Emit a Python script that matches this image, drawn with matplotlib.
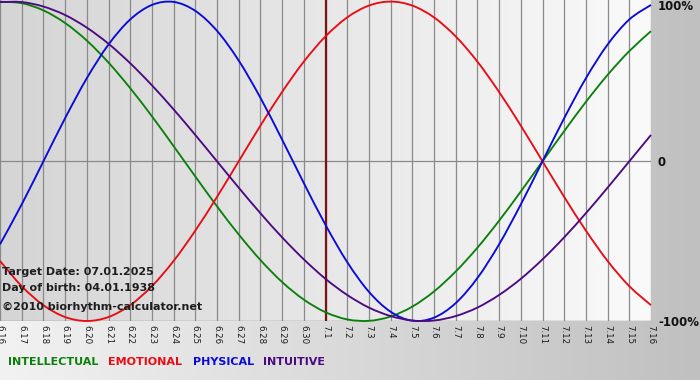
import numpy as np
import matplotlib
matplotlib.use('Agg')
import matplotlib.pyplot as plt
from matplotlib.colors import LinearSegmentedColormap
from matplotlib.path import Path
from matplotlib.patches import PathPatch

# ---- data ----
dates = ['6.16', '6.17', '6.18', '6.19', '6.20', '6.21', '6.22', '6.23', '6.24', '6.25',
         '6.26', '6.27', '6.28', '6.29', '6.30', '7.1', '7.2', '7.3', '7.4', '7.5',
         '7.6', '7.7', '7.8', '7.9', '7.10', '7.11', '7.12', '7.13', '7.14', '7.15', '7.16']

intellectual = [0.999, 0.990, 0.945, 0.866, 0.756, 0.618, 0.458, 0.282, 0.095, -0.095,
                -0.282, -0.458, -0.618, -0.756, -0.866, -0.945, -0.990, -0.999, -0.972, -0.910,
                -0.815, -0.690, -0.541, -0.372, -0.189, 0.000, 0.189, 0.372, 0.541, 0.690, 0.815]
emotional = [-0.624, -0.782, -0.901, -0.975, -1.000, -0.975, -0.901, -0.782, -0.624, -0.434,
             -0.223, 0.000, 0.223, 0.434, 0.624, 0.782, 0.901, 0.975, 1.000, 0.975,
             0.901, 0.782, 0.624, 0.434, 0.223, 0.000, -0.223, -0.434, -0.624, -0.782, -0.901]
physical = [-0.520, -0.270, 0.000, 0.270, 0.520, 0.731, 0.888, 0.979, 0.998, 0.942,
            0.817, 0.631, 0.398, 0.136, -0.136, -0.398, -0.631, -0.817, -0.942, -0.998,
            -0.979, -0.888, -0.731, -0.520, -0.270, 0.000, 0.270, 0.520, 0.731, 0.888, 0.979]
intuitive = [0.997, 0.997, 0.969, 0.916, 0.837, 0.736, 0.614, 0.476, 0.325, 0.165,
             0.000, -0.165, -0.325, -0.476, -0.614, -0.736, -0.837, -0.916, -0.969, -0.997,
             -0.997, -0.969, -0.916, -0.837, -0.736, -0.614, -0.476, -0.325, -0.165, 0.000, 0.165]

series_names = ['INTELLECTUAL', 'EMOTIONAL', 'PHYSICAL', 'INTUITIVE']
series_colors = ['#0a800a', '#e80c14', '#0a0ad8', '#4b0a82']
target_label = '7.1'
y_ticks = [1.0, 0.0, -1.0]
y_labels = ['100%', '0', '-100%']
info_lines = ['Target Date: 07.01.2025', 'Day of birth: 04.01.1938',
              '\u00a92010 biorhythm-calculator.net']


def smooth_path(xs, ys):
    """Catmull-Rom style Bezier path through the data points."""
    pts = np.column_stack([xs, ys]).astype(float)
    n = len(pts)
    verts = [pts[0]]
    codes = [Path.MOVETO]
    for i in range(n - 1):
        p0 = pts[max(i - 1, 0)]
        p1 = pts[i]
        p2 = pts[i + 1]
        p3 = pts[min(i + 2, n - 1)]
        c1 = p1 + (p2 - p0) / 6.0
        c2 = p2 - (p3 - p1) / 6.0
        verts += [c1, c2, p2]
        codes += [Path.CURVE4] * 3
    return Path(verts, codes)


# ---- figure ----
W, H = 700, 380
fig = plt.figure(figsize=(W / 100, H / 100), dpi=100)

# figure background gradient
bg = fig.add_axes([0, 0, 1, 1], zorder=-10)
bg_cmap = LinearSegmentedColormap.from_list('bg', ['#f2f2f2', '#c0c0c0'])
bg.imshow(np.linspace(0, 1, 256)[None, :], aspect='auto', cmap=bg_cmap,
          extent=[0, 1, 0, 1])
bg.set_axis_off()

# main plot area
ax_left, ax_right, ax_top, ax_bottom = 0, 651, 0, 321
ax = fig.add_axes([ax_left / W, 1 - ax_bottom / H, (ax_right - ax_left) / W,
                   (ax_bottom - ax_top) / H])
x = np.arange(len(dates))
ax.set_xlim(0, len(dates) - 1)
ax.set_ylim(-1.0, 1.01)

plot_cmap = LinearSegmentedColormap.from_list('pl', ['#d5d5d5', '#fafafa'])
ax.imshow(np.linspace(0, 1, 256)[None, :], aspect='auto', cmap=plot_cmap,
          extent=[0, len(dates) - 1, -1.0, 1.01], zorder=0)

for xi in x:
    ax.axvline(xi, color='#8a8a8a', lw=0.9, zorder=1)
ax.axhline(0, color='#8a8a8a', lw=0.9, zorder=1)
ax.axhline(-1.0, color='#8a8a8a', lw=1.0, zorder=1)

ax.axvline(dates.index(target_label), color='#7a1212', lw=1.6, zorder=2)

for vals, col in zip([intellectual, emotional, physical, intuitive], series_colors):
    patch = PathPatch(smooth_path(x, vals), facecolor='none', edgecolor=col,
                      lw=1.35, zorder=3, clip_on=False, joinstyle='round')
    ax.add_patch(patch)

for s in ax.spines.values():
    s.set_visible(False)
ax.set_yticks([])
ax.set_xticks(x)
ax.set_xticklabels(dates, rotation=270, fontsize=6.2, color='#1a1a1a')
ax.tick_params(axis='x', length=0, pad=3)

# info text overlay
for i, t in enumerate(info_lines):
    ypx = [272, 288, 307][i]
    fig.text(2 / W, 1 - ypx / H, t, fontsize=8, fontweight='bold',
             color='#1e1e1e', va='center', ha='left')

# right-side percent labels
for val, lab in zip(y_ticks, y_labels):
    ypx = {1.0: 7, 0.0: 162, -1.0: 322}[val]
    fig.text(658 / W, 1 - ypx / H, lab, fontsize=8.5, fontweight='bold',
             color='#111111', va='center', ha='left')

# legend text
leg_x = [8, 108, 193, 263]
for name, col, lx in zip(series_names, series_colors, leg_x):
    fig.text(lx / W, 1 - 362 / H, name, fontsize=8, fontweight='bold',
             color=col, va='center', ha='left')

fig.savefig('out.png', dpi=100)
